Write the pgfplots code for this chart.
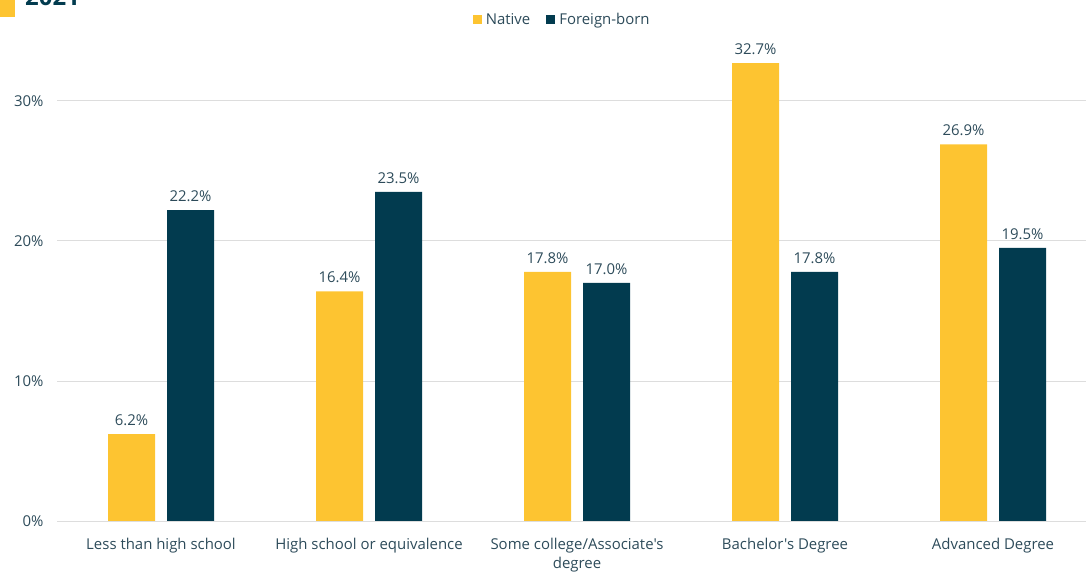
\documentclass[border=0pt]{standalone}
\usepackage{pgfplots}
\pgfplotsset{compat=1.18}
\usepackage{fontspec}
\setmainfont{Open Sans}[Ligatures=TeXOff]
\definecolor{native}{HTML}{FDC431}
\definecolor{foreign}{HTML}{023B4F}
\definecolor{txt}{HTML}{2D4B5A}
\definecolor{gridc}{HTML}{DDDDDD}
\begin{document}
\begin{tikzpicture}
\useasboundingbox (0,0) rectangle (1086bp,573bp);
\fill[native] (0,556bp) rectangle (15bp,573bp);
\node[anchor=base west, font=\bfseries\fontsize{24}{26}\selectfont, text=foreign, inner sep=0] at (25bp,567bp) {2021};
\begin{axis}[
  at={(57bp,52bp)}, anchor=south west,
  scale only axis, width=1029bp, height=490bp,
  ymin=0, ymax=35, xmin=-0.5, xmax=4.447,
  ybar=12bp, bar width=47bp,
  axis line style={draw=none},
  /pgf/number format/assume math mode=true,
  ytick={0,10,20,30}, yticklabels={0\%,10\%,20\%,30\%},
  xtick={0,1,2,3,4},
  xticklabels={Less than high school, High school or equivalence, {Some college/Associate's\\degree}, Bachelor's Degree, Advanced Degree},
  xticklabel style={align=center, text=txt, font=\fontsize{15}{19}\selectfont, yshift=-14bp},
  yticklabel style={text=txt, font=\fontsize{15}{18}\selectfont, xshift=-10bp},
  major tick length=0pt,
  ymajorgrids, grid style={gridc, line width=1pt},
  nodes near coords={\pgfmathprintnumber[fixed, fixed zerofill, precision=1, assume math mode=true]{\pgfplotspointmeta}\%},
  nodes near coords style={text=txt, font=\fontsize{15}{18}\selectfont, yshift=5bp},
  legend style={at={(0.491,1)}, anchor=south, draw=none, legend columns=-1, font=\fontsize{15}{18}\selectfont, text=txt, yshift=1bp, /tikz/every even column/.append style={column sep=14bp}, /tikz/every odd column/.append style={column sep=2bp}},
  legend image code/.code={\fill[#1] (0bp,-4.5bp) rectangle (9bp,4.5bp);},
]
\addplot[fill=native, draw=none] coordinates {(0,6.2) (1,16.4) (2,17.8) (3,32.7) (4,26.9)};
\addplot[fill=foreign, draw=none] coordinates {(0,22.2) (1,23.5) (2,17.0) (3,17.8) (4,19.5)};
\legend{Native, Foreign-born}
\draw[gridc!80!black!60, line width=1pt] (rel axis cs:0,0) -- (rel axis cs:1,0);
\end{axis}
\end{tikzpicture}
\end{document}
